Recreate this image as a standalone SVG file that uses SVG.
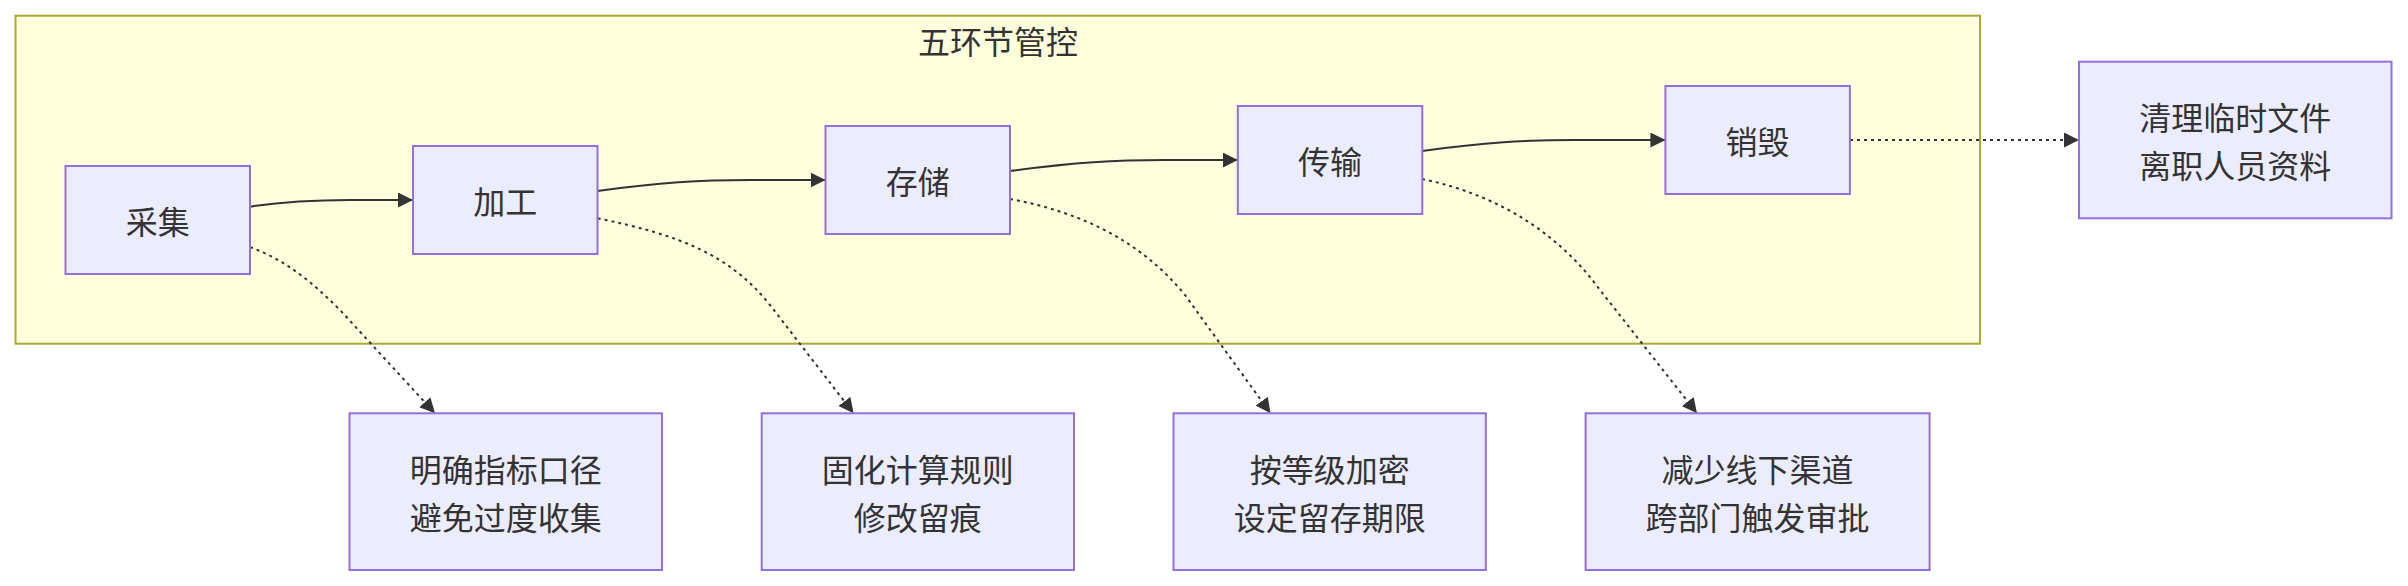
<svg xmlns="http://www.w3.org/2000/svg" width="2408" height="586" viewBox="0 0 2408 586">
<style>
.cluster{fill:#ffffde;stroke:#aaaa33;stroke-width:2}
.node rect{fill:#ececff;stroke:#9370db;stroke-width:2}
text{font-family:"Noto Sans CJK SC","Noto Sans",sans-serif;font-size:32px;fill:#333;text-anchor:middle;dominant-baseline:central}
.edge{fill:none;stroke:#333;stroke-width:2}
.dot{stroke-dasharray:3 4}
</style>
<defs>
<marker id="arrow" viewBox="0 0 10 10" refX="10" refY="5" markerUnits="userSpaceOnUse" markerWidth="15" markerHeight="15" orient="auto">
<path d="M0,0 L10,5 L0,10 z" fill="#333"/>
</marker>
</defs>
<g id="cluster">
<rect class="cluster" x="15.5" y="15.7" width="1964.5" height="328"/>
<text x="998" y="40">五环节管控</text>
</g>
<g id="connectors">
<path class="edge" d="M250,206.7 C290,200.5 320,200 350,200 L413,200" marker-end="url(#arrow)"/>
<path class="edge" d="M597.5,191 C660,182.5 700,180 750,180 L825.5,180" marker-end="url(#arrow)"/>
<path class="edge" d="M1010,171 C1075,162.5 1115,160 1165,160 L1237.8,160" marker-end="url(#arrow)"/>
<path class="edge" d="M1422,151 C1485,142.5 1525,140 1575,140 L1665.4,140" marker-end="url(#arrow)"/>
<path class="edge dot" d="M1850,140 L2079,140" marker-end="url(#arrow)"/>
<path class="edge dot" d="M250,247 C285,260 310,280 340,310 L435,413.3" marker-end="url(#arrow)"/>
<path class="edge dot" d="M597.5,218.3 C680,235 730,255 770,305 L853.6,413.3" marker-end="url(#arrow)"/>
<path class="edge dot" d="M1010,199 C1080,212 1140,240 1185,295 L1270.5,413.3" marker-end="url(#arrow)"/>
<path class="edge dot" d="M1422,179 C1500,195 1560,235 1600,290 L1697,413.3" marker-end="url(#arrow)"/>
</g>
<g id="n-caiji" class="node"><rect x="65.5" y="166" width="184.5" height="108"/><text x="157.75" y="220">采集</text></g>
<g id="n-jiagong" class="node"><rect x="413" y="146" width="184.5" height="108"/><text x="505.25" y="200">加工</text></g>
<g id="n-cunchu" class="node"><rect x="825.5" y="126" width="184.5" height="108"/><text x="917.75" y="180">存储</text></g>
<g id="n-chuanshu" class="node"><rect x="1237.8" y="106" width="184.5" height="108"/><text x="1330" y="160">传输</text></g>
<g id="n-xiaohui" class="node"><rect x="1665.4" y="86" width="184.5" height="108"/><text x="1757.6" y="140">销毁</text></g>
<g id="n-qingli" class="node"><rect x="2079" y="61.7" width="312.5" height="156.6"/><text x="2235.25" y="116">清理临时文件</text><text x="2235.25" y="164">离职人员资料</text></g>
<g id="n-mingque" class="node"><rect x="349.5" y="413.3" width="312.5" height="156.7"/><text x="505.75" y="467.7">明确指标口径</text><text x="505.75" y="515.7">避免过度收集</text></g>
<g id="n-guhua" class="node"><rect x="761.7" y="413.3" width="312.3" height="156.7"/><text x="917.85" y="467.7">固化计算规则</text><text x="917.85" y="515.7">修改留痕</text></g>
<g id="n-anjiji" class="node"><rect x="1173.5" y="413.3" width="312.3" height="156.7"/><text x="1329.65" y="467.7">按等级加密</text><text x="1329.65" y="515.7">设定留存期限</text></g>
<g id="n-jianshao" class="node"><rect x="1585.6" y="413.3" width="344" height="156.7"/><text x="1757.6" y="467.7">减少线下渠道</text><text x="1757.6" y="515.7">跨部门触发审批</text></g>
</svg>
